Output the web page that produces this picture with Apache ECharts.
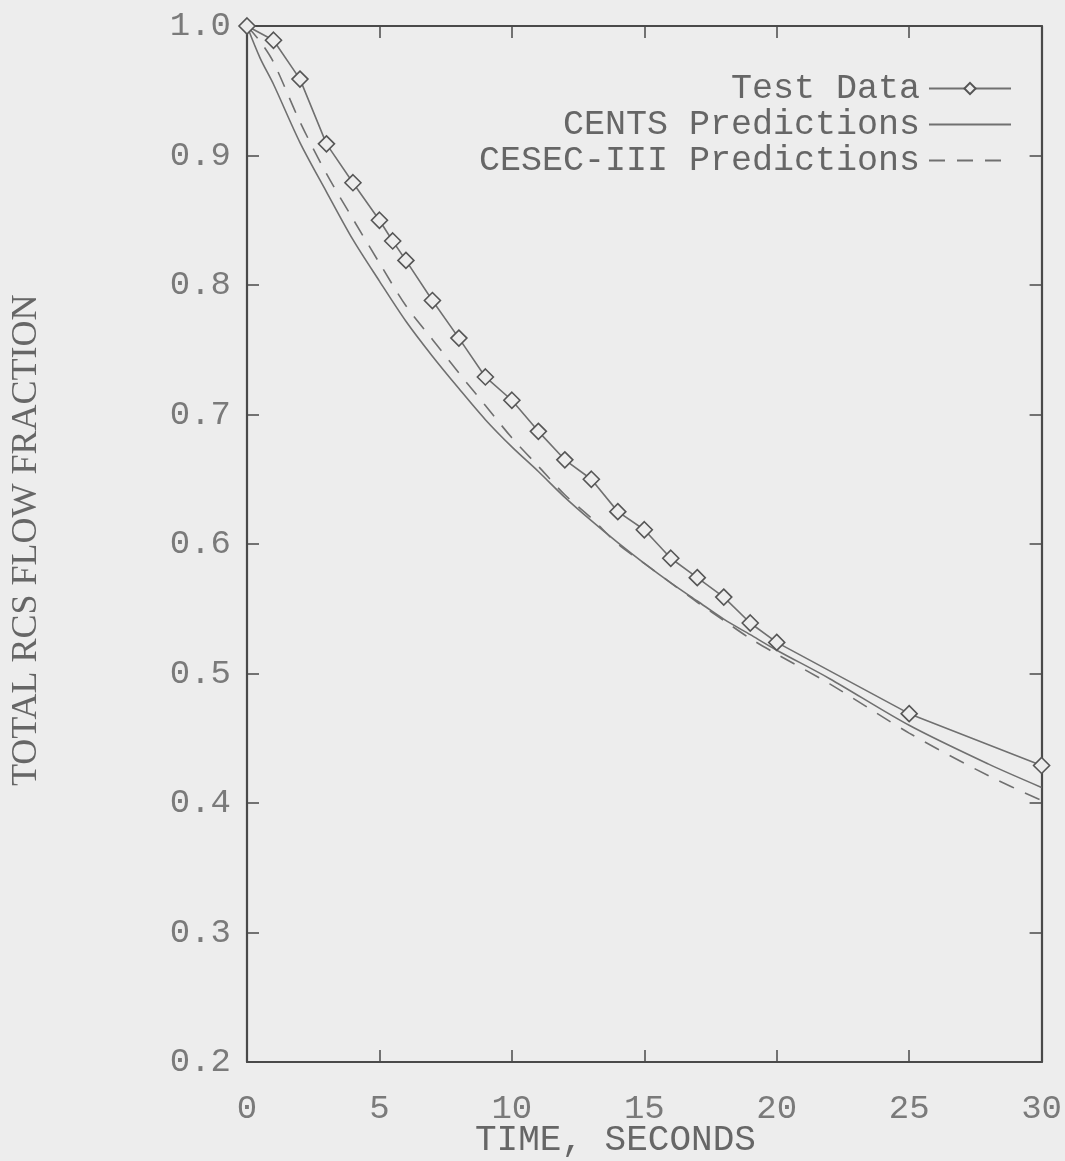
<!DOCTYPE html>
<html>
<head>
<meta charset="utf-8">
<script src="https://cdn.jsdelivr.net/npm/echarts@6/dist/echarts.min.js"></script>
<style>
html,body{margin:0;padding:0;background:#ededed;}
#chart{width:1065px;height:1161px;}
</style>
</head>
<body>
<div id="chart"></div>
<script>
// ---- data ----
const testTime = [0, 1, 2, 3, 4, 5, 5.5, 6, 7, 8, 9, 10, 11, 12, 13, 14, 15, 16, 17, 18, 19, 20, 25, 30];
const testFlow = [1.0, 0.989, 0.959, 0.909, 0.879, 0.850, 0.834, 0.819, 0.788, 0.759, 0.729, 0.711, 0.687, 0.665, 0.650, 0.625, 0.611, 0.589, 0.574, 0.559, 0.539, 0.524, 0.469, 0.429];

const centsTime = [0, 0.5, 1, 2, 3, 4, 5, 6, 7, 8, 9, 10, 11, 12, 13, 14, 15, 16, 17, 18, 19, 20, 22, 25, 28, 30];
const centsFlow = [1.0, 0.975, 0.955, 0.910, 0.872, 0.835, 0.803, 0.772, 0.745, 0.720, 0.696, 0.675, 0.656, 0.636, 0.618, 0.601, 0.585, 0.570, 0.556, 0.542, 0.530, 0.518, 0.496, 0.460, 0.430, 0.412];

const cesecTime = [0, 0.5, 1, 2, 3, 4, 5, 6, 7, 8, 9, 10, 11, 12, 13, 14, 15, 16, 17, 18, 19, 20, 22, 25, 28, 30];
const cesecFlow = [1.0, 0.988, 0.972, 0.926, 0.886, 0.851, 0.817, 0.784, 0.758, 0.732, 0.707, 0.682, 0.660, 0.638, 0.620, 0.600, 0.585, 0.570, 0.555, 0.541, 0.527, 0.515, 0.492, 0.454, 0.421, 0.402];

const xTicks = [0, 5, 10, 15, 20, 25, 30];
const yTicks = [0.2, 0.3, 0.4, 0.5, 0.6, 0.7, 0.8, 0.9, 1.0];

const seriesNames = ['Test Data', 'CENTS Predictions', 'CESEC-III Predictions'];

// ---- helpers ----
const pairs = (xs, ys) => xs.map((x, i) => [x, ys[i]]);
const lineCol = '#707070';
const frameCol = '#4a4a4a';
const textCol = '#7a7a7a';
const mono = '"Liberation Mono", "DejaVu Sans Mono", monospace';

const chart = echarts.init(document.getElementById('chart'));

function tick() { return { show: true, inside: true, length: 12, lineStyle: { color: frameCol, width: 1.5 } }; }
function frame() { return { show: true, onZero: false, lineStyle: { color: frameCol, width: 2.2 } }; }

function xAxisDef(pos, labels) {
  return {
    type: 'value', position: pos, min: xTicks[0], max: xTicks[xTicks.length - 1], interval: 5,
    splitLine: { show: false }, axisLine: frame(), axisTick: tick(),
    axisLabel: labels ? { show: true, color: textCol, fontFamily: mono, fontSize: 34, margin: 30 } : { show: false }
  };
}
function yAxisDef(pos, labels) {
  return {
    type: 'value', position: pos, min: yTicks[0], max: yTicks[yTicks.length - 1], interval: 0.1,
    splitLine: { show: false }, axisLine: frame(), axisTick: tick(),
    axisLabel: labels ? { show: true, color: textCol, fontFamily: mono, fontSize: 34, margin: 16,
      formatter: v => v.toFixed(1) } : { show: false }
  };
}

function legendAt(name, top, hideSymbol) {
  const d = { name: name };
  if (hideSymbol) d.itemStyle = { opacity: 0 };
  return {
    data: [d], right: 53, top: top, orient: 'vertical', align: 'right',
    itemWidth: 82, itemHeight: 14, itemGap: 0, padding: 0,
    selectedMode: false,
    textStyle: { fontFamily: mono, fontSize: 35, color: '#666', padding: [0, 4, 0, 0] }
  };
}

const option = {
  backgroundColor: '#ededed',
  animation: false,
  grid: { left: 247, right: 18, top: 26, bottom: 99 },
  xAxis: [xAxisDef('bottom', true), xAxisDef('top', false)],
  yAxis: [yAxisDef('left', true), yAxisDef('right', false)],
  legend: [
    legendAt(seriesNames[0], 71, false),
    legendAt(seriesNames[1], 107, true),
    legendAt(seriesNames[2], 143, true)
  ],
  series: [
    {
      name: seriesNames[1], type: 'line', smooth: 0.3, showSymbol: false, symbol: 'none',
      data: pairs(centsTime, centsFlow),
      lineStyle: { color: lineCol, width: 1.6 }, itemStyle: { color: lineCol },
      z: 2
    },
    {
      name: seriesNames[2], type: 'line', smooth: 0.3, showSymbol: false, symbol: 'none',
      data: pairs(cesecTime, cesecFlow),
      lineStyle: { color: lineCol, width: 1.6, type: [16, 12] }, itemStyle: { color: lineCol },
      z: 2
    },
    {
      name: seriesNames[0], type: 'line', smooth: false,
      data: pairs(testTime, testFlow),
      symbol: 'diamond', symbolSize: 16,
      lineStyle: { color: lineCol, width: 1.6 },
      itemStyle: { color: '#ededed', borderColor: '#555', borderWidth: 1.6 },
      z: 3
    }
  ],
  graphic: [
    {
      type: 'text', left: 475, top: 1122,
      style: { text: 'TIME, SECONDS', fill: '#666', font: '36px ' + mono }
    },
    {
      type: 'text', x: 9, y: 786, rotation: Math.PI / 2,
      style: { text: 'TOTAL RCS FLOW FRACTION', fill: '#666', font: '36px "Liberation Serif", "DejaVu Serif", serif' }
    }
  ]
};

chart.setOption(option);
</script>
</body>
</html>
